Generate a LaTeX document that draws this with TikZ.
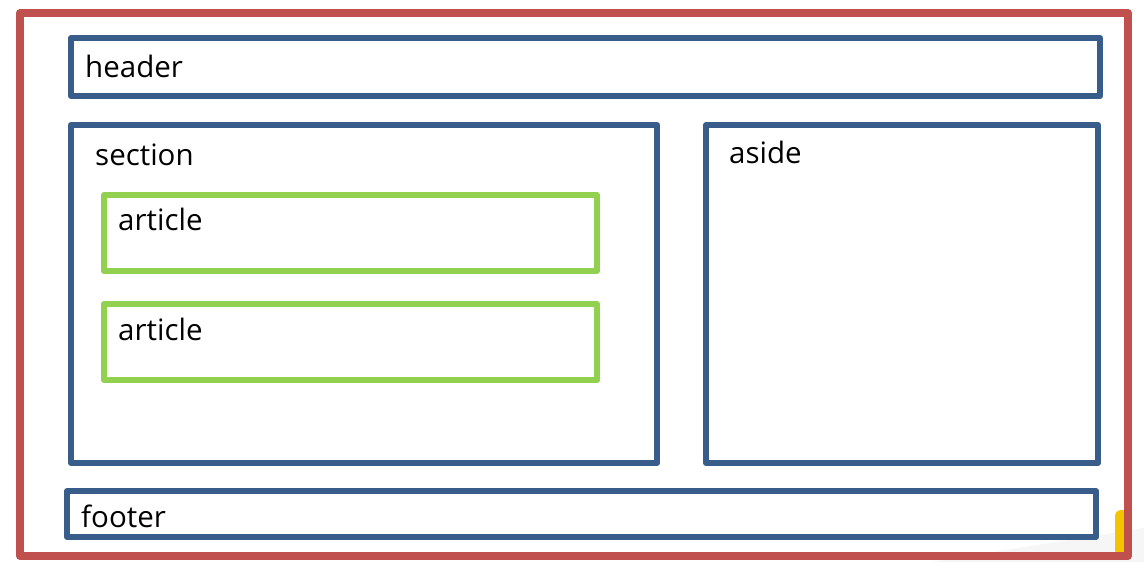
\documentclass[tikz,border=0pt]{standalone}
\usepackage{fontspec}
\setmainfont{Open Sans}
\usepackage{xcolor}

\definecolor{pagered}{HTML}{C0504D}
\definecolor{partblue}{HTML}{385D8A}
\definecolor{articlegreen}{HTML}{92D050}
\definecolor{tabyellow}{HTML}{F5C400}

\tikzset{
  pageframe/.style={draw=pagered, line width=8pt},
  partbox/.style={draw=partblue, line width=6pt},
  articlebox/.style={draw=articlegreen, line width=6pt},
  boxlabel/.style={anchor=base west, inner sep=0pt, font=\fontsize{29.5}{32}\selectfont}
}

\begin{document}
\begin{tikzpicture}[x=1pt, y=-1pt, line join=round]
    \useasboundingbox (0,0) rectangle (1144,562);
    % faint shadow and tab behind the page
    \fill[gray!7] (930,562) -- (1144,528) -- (1144,562) -- cycle;
    \fill[tabyellow, rounded corners=6pt] (1115,510) rectangle (1130,556);
    % page
    \draw[pageframe] (20,13) rectangle (1128,556);
    % parts
    \draw[partbox] (71,38) rectangle (1100,96);
    \draw[partbox] (71,125) rectangle (657,463);
    \draw[partbox] (706,125) rectangle (1098,463);
    \draw[partbox] (67,491) rectangle (1096,537);
    \draw[articlebox] (104,195) rectangle (597,271);
    \draw[articlebox] (104,304) rectangle (597,380);
    % labels
    \node[boxlabel] (header) at (85,77) {header};
    \node[boxlabel] (section) at (95,165) {section};
    \node[boxlabel] (article1) at (118,230) {article};
    \node[boxlabel] (article2) at (118,340) {article};
    \node[boxlabel] (aside) at (729,163) {aside};
    \node[boxlabel] (footer) at (81,527) {footer};
\end{tikzpicture}
\end{document}
